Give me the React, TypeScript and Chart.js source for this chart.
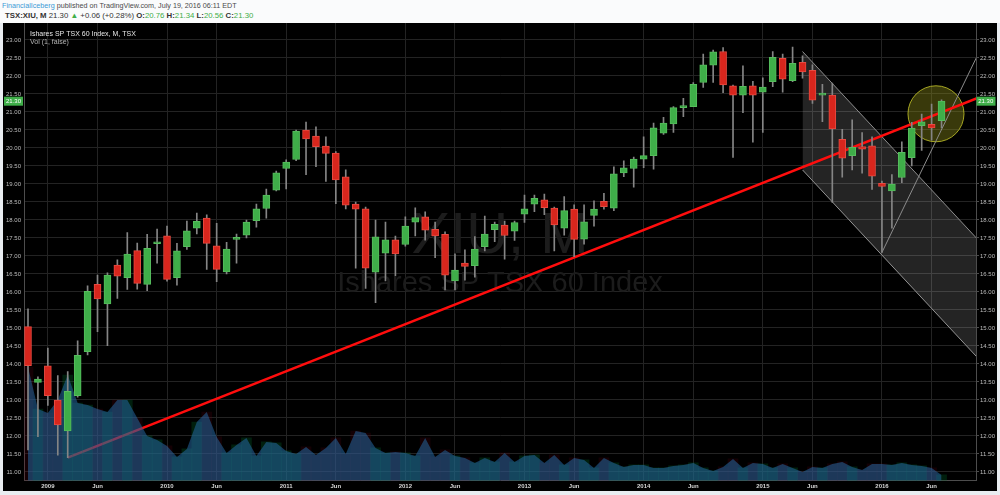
import React, { useEffect, useRef } from "react";
import { Chart, registerables } from "chart.js";

Chart.register(...registerables);

const FONT = "'Liberation Sans', Arial, sans-serif";

// ---------- Data (monthly, TSX:XIU) ----------
const monthLabels = [
  "Nov 2008", "Dec 2008",
  "Jan 2009", "Feb 2009", "Mar 2009", "Apr 2009", "May 2009", "Jun 2009", "Jul 2009", "Aug 2009", "Sep 2009", "Oct 2009", "Nov 2009", "Dec 2009",
  "Jan 2010", "Feb 2010", "Mar 2010", "Apr 2010", "May 2010", "Jun 2010", "Jul 2010", "Aug 2010", "Sep 2010", "Oct 2010", "Nov 2010", "Dec 2010",
  "Jan 2011", "Feb 2011", "Mar 2011", "Apr 2011", "May 2011", "Jun 2011", "Jul 2011", "Aug 2011", "Sep 2011", "Oct 2011", "Nov 2011", "Dec 2011",
  "Jan 2012", "Feb 2012", "Mar 2012", "Apr 2012", "May 2012", "Jun 2012", "Jul 2012", "Aug 2012", "Sep 2012", "Oct 2012", "Nov 2012", "Dec 2012",
  "Jan 2013", "Feb 2013", "Mar 2013", "Apr 2013", "May 2013", "Jun 2013", "Jul 2013", "Aug 2013", "Sep 2013", "Oct 2013", "Nov 2013", "Dec 2013",
  "Jan 2014", "Feb 2014", "Mar 2014", "Apr 2014", "May 2014", "Jun 2014", "Jul 2014", "Aug 2014", "Sep 2014", "Oct 2014", "Nov 2014", "Dec 2014",
  "Jan 2015", "Feb 2015", "Mar 2015", "Apr 2015", "May 2015", "Jun 2015", "Jul 2015", "Aug 2015", "Sep 2015", "Oct 2015", "Nov 2015", "Dec 2015",
  "Jan 2016", "Feb 2016", "Mar 2016", "Apr 2016", "May 2016", "Jun 2016", "Jul 2016",
];

const opens = [
  15.04, 13.49, 13.95, 13.0, 12.14, 13.12, 14.34, 16.21, 15.67, 16.75,
  16.4, 17.15, 16.21, 17.34, 17.56, 16.4, 17.26, 17.77, 18.05, 17.28,
  16.56, 17.46, 17.58, 17.98, 18.32, 18.83, 19.43, 19.68, 20.5, 20.33,
  20.05, 19.86, 19.2, 18.44, 18.31, 16.55, 17.08, 17.45, 17.32, 17.94,
  18.09, 17.74, 17.6, 16.31, 16.8, 16.73, 17.26, 17.73, 17.86, 17.69,
  18.16, 18.44, 18.56, 18.33, 17.77, 18.3, 17.47, 18.13, 18.52, 18.33,
  19.31, 19.43, 19.69, 19.79, 20.41, 20.67, 21.12, 21.15, 21.82, 22.3,
  22.68, 21.73, 21.47, 21.73, 21.55, 21.84, 22.49, 21.87, 22.38, 22.16,
  21.47, 21.47, 20.24, 19.79, 20.04, 20.06, 19.02, 18.81, 19.18, 19.73,
  20.62, 20.66, 20.76,
];

const highs = [
  15.53, 13.64, 14.44, 13.68, 13.79, 14.64, 16.17, 16.47, 16.53, 16.89,
  17.65, 17.36, 17.6, 17.75, 17.83, 17.35, 17.97, 18.19, 18.14, 17.91,
  17.38, 17.61, 18.0, 18.44, 18.86, 19.36, 19.67, 20.5, 20.72, 20.59,
  20.31, 19.9, 19.39, 18.5, 18.36, 18.0, 17.94, 17.55, 18.09, 18.34,
  18.23, 17.94, 17.67, 17.06, 17.17, 17.54, 18.11, 17.94, 17.97, 17.97,
  18.69, 18.69, 18.72, 18.36, 18.65, 18.42, 18.42, 18.53, 18.74, 19.48,
  19.64, 19.75, 20.31, 20.69, 20.85, 21.15, 21.38, 21.82, 22.61, 22.72,
  22.79, 21.75, 22.28, 21.85, 21.95, 22.68, 22.61, 22.8, 22.56, 22.31,
  21.77, 21.8, 20.52, 20.78, 20.43, 20.31, 19.08, 19.26, 20.17, 20.71,
  20.94, 21.22, 21.34,
];

const lows = [
  11.61, 11.98, 12.85, 11.47, 11.4, 13.08, 14.25, 14.9, 14.51, 15.82,
  16.07, 16.08, 16.04, 16.8, 16.3, 16.19, 17.18, 17.61, 16.63, 16.29,
  16.5, 16.8, 17.5, 17.8, 18.05, 18.81, 18.86, 19.65, 19.26, 19.48,
  19.07, 18.45, 18.31, 16.66, 16.1, 15.7, 16.31, 16.45, 17.27, 17.56,
  17.44, 16.95, 16.06, 16.06, 16.33, 16.41, 17.14, 17.4, 16.91, 17.43,
  17.93, 18.23, 18.15, 17.14, 17.58, 16.98, 17.33, 17.83, 18.3, 18.26,
  19.2, 18.91, 19.45, 19.41, 20.38, 20.43, 20.87, 21.15, 21.68, 21.82,
  21.54, 19.74, 20.98, 20.16, 20.43, 21.7, 21.55, 21.84, 21.94, 21.24,
  20.73, 18.49, 19.19, 19.39, 19.3, 18.85, 17.1, 17.77, 19.04, 19.5,
  19.93, 20.22, 20.56,
];

const closes = [
  13.95, 13.58, 13.12, 12.31, 13.24, 14.24, 16.02, 15.81, 16.47, 16.44,
  17.05, 16.24, 17.21, 17.38, 16.35, 17.14, 17.7, 17.96, 17.35, 16.63,
  17.19, 17.47, 17.94, 18.31, 18.69, 19.31, 19.61, 20.47, 20.25, 20.04,
  19.85, 19.11, 18.41, 18.3, 16.66, 17.53, 17.45, 17.06, 17.83, 18.07,
  17.72, 17.56, 16.47, 16.61, 16.71, 17.19, 17.61, 17.88, 17.57, 17.93,
  18.31, 18.6, 18.34, 17.86, 18.26, 17.46, 17.95, 18.3, 18.37, 19.28,
  19.45, 19.69, 19.79, 20.56, 20.69, 21.12, 21.14, 21.77, 22.31, 22.67,
  21.75, 21.47, 21.71, 21.47, 21.69, 22.52, 21.91, 22.35, 22.11, 21.33,
  21.51, 20.53, 19.72, 20.02, 19.97, 19.22, 18.93, 19.0, 19.88, 20.55,
  20.73, 20.56, 21.3,
];

// monthly volume (millions of shares, approximate)
const volumes = [
  455, 287, 271, 323, 423, 311, 303, 287, 275, 323,
  323, 251, 179, 163, 139, 95, 127, 235, 275, 175,
  111, 143, 171, 99, 155, 151, 119, 107, 135, 103,
  131, 171, 107, 199, 191, 131, 111, 115, 111, 99,
  171, 95, 123, 99, 91, 71, 91, 75, 111, 75,
  99, 103, 71, 103, 63, 91, 83, 51, 91, 71,
  55, 63, 63, 51, 51, 59, 63, 71, 51, 39,
  55, 87, 51, 71, 67, 51, 67, 51, 35, 55,
  51, 67, 75, 55, 43, 67, 67, 63, 71, 63,
  59, 51, 23,
];

const priceTicks = [11, 11.5, 12, 12.5, 13, 13.5, 14, 14.5, 15, 15.5, 16, 16.5, 17, 17.5, 18, 18.5, 19, 19.5, 20, 20.5, 21, 21.5, 22, 22.5, 23];

// drawings (month index, price)
const trendStart = [4, 11.4];
const trendEnd = [96, 21.43];
const channelUpper = [[78, 22.68], [96, 17.354]];
const channelLower = [[78, 19.39], [96, 14.064]];
const rayLine = [[86, 17.1], [96, 22.79]];
const circleCenter = [91.44, 20.95];
const circleRadiusMonths = 2.82;

const lastClose = 21.3;
const watermarkTitle = "XIU, M";
const watermarkSubtitle = "Ishares SP TSX 60 Index";
const legendTitle = "Ishares SP TSX 60 Index, M, TSX";
const legendVol = "Vol (1, false)";

// view range
const xMin = -0.403;
const xMax = 95.47;
const yMin = 10.758;
const yMax = 23.472;
const volMax = 1831;

const UP = "#3fae49";
const UP_BORDER = "#56bd5d";
const DOWN = "#d8261d";
const DOWN_BORDER = "#e84a40";

export default function App() {
  const ref = useRef<HTMLCanvasElement>(null);

  useEffect(() => {
    if (!ref.current) return;
    const idx = closes.map((_, i) => i);
    const isUp = (i: number) => closes[i] >= opens[i];

    const xTickIdx: number[] = [];
    const xTickText: Record<number, string> = {};
    monthLabels.forEach((m, i) => {
      const [mon, yr] = m.split(" ");
      if (mon === "Jan") { xTickIdx.push(i); xTickText[i] = yr; }
      if (mon === "Jun") { xTickIdx.push(i); xTickText[i] = "Jun"; }
    });

    const overlay = {
      id: "overlay",
      beforeDraw(chart: any) {
        const c = chart.ctx;
        c.save();
        c.fillStyle = "#000000";
        c.fillRect(0, 0, chart.width, chart.height);
        c.restore();
      },
      beforeDatasetsDraw(chart: any) {
        const c = chart.ctx;
        const { left, right, top, bottom } = chart.chartArea;
        const cx = (left + right) / 2;
        const cy = (top + bottom) / 2;
        c.save();
        c.fillStyle = "#1c1c1c";
        c.textAlign = "center";
        c.textBaseline = "alphabetic";
        c.font = `58px ${FONT}`;
        c.fillText(watermarkTitle, cx, cy + 1);
        c.font = `29px ${FONT}`;
        c.fillText(watermarkSubtitle, cx, cy + 40);
        // highlight circle
        const xs = chart.scales.x;
        const ys = chart.scales.y;
        const px = xs.getPixelForValue(circleCenter[0]);
        const py = ys.getPixelForValue(circleCenter[1]);
        const r = Math.abs(xs.getPixelForValue(circleCenter[0] + circleRadiusMonths) - px);
        c.beginPath();
        c.arc(px, py, r, 0, Math.PI * 2);
        c.fillStyle = "rgba(150,150,30,0.38)";
        c.fill();
        c.lineWidth = 1;
        c.strokeStyle = "rgba(190,190,40,0.85)";
        c.stroke();
        c.restore();
      },
      afterDraw(chart: any) {
        const c = chart.ctx;
        const ys = chart.scales.y;
        const { left, right } = chart.chartArea;
        c.save();
        c.textAlign = "left";
        c.textBaseline = "middle";
        c.font = `7px ${FONT}`;
        c.fillStyle = "#e6e6e6";
        c.fillText(legendTitle, left + 6, 11);
        c.fillStyle = "#b5b5b5";
        c.fillText(legendVol, left + 6, 19.5);
        // last price badges
        const yb = ys.getPixelForValue(lastClose);
        c.fillStyle = "#3fae49";
        c.fillRect(1, yb - 4.5, left - 2, 9);
        c.fillRect(right + 0.5, yb - 4.5, chart.width - right - 2, 9);
        c.fillStyle = "#ffffff";
        c.font = `6px ${FONT}`;
        c.textAlign = "center";
        c.fillText(lastClose.toFixed(2), (1 + left - 1) / 2, yb + 0.5);
        c.fillText(lastClose.toFixed(2), (right + chart.width - 1.5) / 2, yb + 0.5);
        c.restore();
      },
    };

    const setPriceTicks = (s: any) => {
      s.ticks = priceTicks.map((v) => ({ value: v }));
    };

    const chart = new Chart(ref.current, {
      type: "bar",
      data: {
        datasets: [
          {
            type: "line",
            data: channelUpper.map(([x, y]) => ({ x, y })),
            borderColor: "#8c8c8c",
            borderWidth: 1,
            pointRadius: 0,
            fill: "+1",
            backgroundColor: "rgba(255,255,255,0.14)",
            order: 10,
            clip: 0,
            yAxisID: "y",
          } as any,
          {
            type: "line",
            data: channelLower.map(([x, y]) => ({ x, y })),
            borderColor: "#8c8c8c",
            borderWidth: 1,
            pointRadius: 0,
            fill: false,
            order: 10,
            clip: 0,
            yAxisID: "y",
          } as any,
          {
            type: "line",
            data: rayLine.map(([x, y]) => ({ x, y })),
            borderColor: "#8c8c8c",
            borderWidth: 1,
            pointRadius: 0,
            fill: false,
            order: 9,
            clip: 0,
            yAxisID: "y",
          } as any,
          {
            type: "line",
            data: [
              { x: trendStart[0], y: trendStart[1] },
              { x: trendEnd[0], y: trendEnd[1] },
            ],
            borderColor: "#ff0d0d",
            borderWidth: 2.5,
            pointRadius: 0,
            fill: false,
            order: 8,
            clip: 0,
            yAxisID: "y",
          } as any,
          {
            type: "bar",
            data: idx.map((i) => ({ x: i, y: volumes[i] })),
            backgroundColor: idx.map((i) => (isUp(i) ? "rgba(0,95,40,0.32)" : "rgba(90,0,20,0.22)")),
            barThickness: 10,
            grouped: false,
            order: 7,
            yAxisID: "vol",
          } as any,
          {
            type: "line",
            data: idx.map((i) => ({ x: i, y: volumes[i] })),
            borderWidth: 0,
            borderColor: "rgba(0,0,0,0)",
            pointRadius: 0,
            fill: "start",
            backgroundColor: "rgba(38,108,168,0.52)",
            order: 6,
            yAxisID: "vol",
          } as any,
          {
            type: "bar",
            data: idx.map((i) => ({ x: i, y: [lows[i], highs[i]] })),
            backgroundColor: "#858585",
            barThickness: 1,
            grouped: false,
            order: 2,
            yAxisID: "y",
          } as any,
          {
            type: "bar",
            data: idx.map((i) => ({ x: i, y: [opens[i], closes[i]] })),
            backgroundColor: idx.map((i) => (isUp(i) ? UP : DOWN)),
            borderColor: idx.map((i) => (isUp(i) ? UP_BORDER : DOWN_BORDER)),
            borderWidth: 1,
            borderSkipped: false,
            barThickness: 7,
            minBarLength: 2,
            grouped: false,
            order: 1,
            yAxisID: "y",
          } as any,
        ],
      },
      options: {
        animation: false,
        responsive: false,
        devicePixelRatio: 1,
        layout: { padding: 0 },
        events: [],
        plugins: { legend: { display: false }, tooltip: { enabled: false } },
        scales: {
          x: {
            type: "linear",
            position: "bottom",
            min: xMin,
            max: xMax,
            offset: false,
            grid: { color: "#232323", offset: false, drawTicks: false },
            border: { color: "#4d4d4d" },
            ticks: {
              autoSkip: false,
              maxRotation: 0,
              padding: 2,
              color: "#d6d6d6",
              font: { family: FONT, size: 6, weight: "bold" },
              callback: (v: any) => xTickText[Math.round(Number(v))] ?? "",
            },
            afterBuildTicks: (s: any) => {
              s.ticks = xTickIdx.map((v) => ({ value: v }));
            },
            afterFit: (s: any) => {
              s.height = 10.3;
              s.paddingLeft = 0;
              s.paddingRight = 0;
            },
          },
          y: {
            type: "linear",
            position: "left",
            min: yMin,
            max: yMax,
            grid: { color: "#232323", drawTicks: false },
            border: { color: "#4d4d4d" },
            ticks: {
              padding: 3,
              color: "#bdbdbd",
              font: { family: FONT, size: 6 },
              callback: (v: any) => Number(v).toFixed(2),
            },
            afterBuildTicks: setPriceTicks,
            afterFit: (s: any) => {
              s.width = 21;
              s.paddingTop = 0;
              s.paddingBottom = 0;
            },
          },
          y2: {
            type: "linear",
            position: "right",
            min: yMin,
            max: yMax,
            grid: { drawOnChartArea: false, drawTicks: true, tickLength: 3, color: "#4d4d4d" },
            border: { color: "#4d4d4d" },
            ticks: {
              padding: 1,
              color: "#bdbdbd",
              font: { family: FONT, size: 6 },
              callback: (v: any) => Number(v).toFixed(2),
            },
            afterBuildTicks: setPriceTicks,
            afterFit: (s: any) => {
              s.width = 21;
              s.paddingTop = 0;
              s.paddingBottom = 0;
            },
          },
          vol: { type: "linear", display: false, min: 0, max: volMax },
        },
      } as any,
      plugins: [overlay],
    });
    return () => chart.destroy();
  }, []);

  const green = "#3fae49";
  const dark = "#333";
  return (
    <div
      style={{
        position: "fixed",
        left: 0,
        top: 0,
        width: 1000,
        height: 495,
        background: "#e9edf1",
        overflow: "hidden",
        fontFamily: FONT,
      }}
    >
      <div style={{ position: "absolute", left: 0, top: 0, width: 1000, height: 23, background: "#fafbfc" }} />
      <div style={{ position: "absolute", left: 2, top: 1, fontSize: 7.2, lineHeight: "9px", color: "#4a4a4a", whiteSpace: "nowrap" }}>
        <span style={{ color: "#3a9ad6" }}>FinancialIceberg</span> published on TradingView.com, July 19, 2016 06:11 EDT
      </div>
      <div style={{ position: "absolute", left: 5, top: 10.5, fontSize: 7.8, lineHeight: "10px", color: dark, whiteSpace: "nowrap" }}>
        <b>TSX:XIU, M</b> 21.30 <span style={{ color: green }}>▲</span> +0.06 (+0.28%) <b>O:</b>
        <span style={{ color: green }}>20.76</span> <b>H:</b>
        <span style={{ color: green }}>21.34</span> <b>L:</b>
        <span style={{ color: green }}>20.56</span> <b>C:</b>
        <span style={{ color: green }}>21.30</span>
      </div>
      <canvas
        ref={ref}
        width={994}
        height={468}
        style={{ position: "absolute", left: 3, top: 23, width: 994, height: 468 }}
      />
    </div>
  );
}
